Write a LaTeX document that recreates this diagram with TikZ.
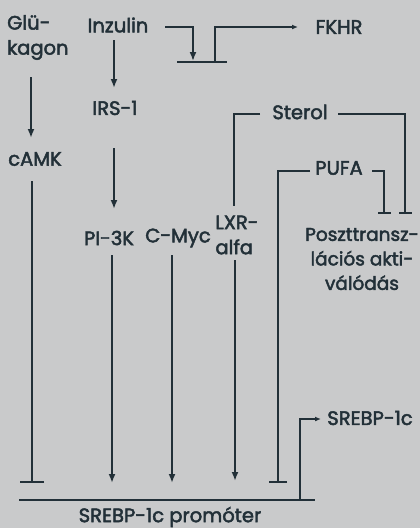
\documentclass[tikz,border=0pt]{standalone}
\usepackage{fontspec}
\setmainfont{Poppins}[FakeBold=2.4]
\usetikzlibrary{arrows.meta}
\definecolor{bg}{RGB}{201,202,203}
\definecolor{ink}{RGB}{34,48,56}
\tikzset{
  lbl/.style={inner sep=0pt, text=ink, font=\fontsize{19.5}{25}\selectfont},
  thick line/.style={draw=ink, line width=2.4pt},
  thin line/.style={draw=ink, line width=1.4pt},
  act/.style={-{Latex[length=9pt,width=7pt]}},
  smallact/.style={-{Latex[length=6pt,width=5pt]}},
}
\begin{document}
\begin{tikzpicture}[x=1pt,y=-1pt]
\fill[bg] (0,0) rectangle (420,528);
\useasboundingbox (0,0) rectangle (420,528);
% labels
\node[lbl, align=left, anchor=west] (glu) at (7,37.5) {Glü-\\kagon};
\node[lbl] (inz) at (118,25) {Inzulin};
\node[lbl] (fkhr) at (339,27) {FKHR};
\node[lbl] (irs) at (115,108) {IRS-1};
\node[lbl] (camk) at (35,159) {cAMK};
\node[lbl] (sterol) at (300,112) {Sterol};
\node[lbl] (pufa) at (339,168) {PUFA};
\node[lbl] (pi3k) at (109,238) {PI-3K};
\node[lbl] (cmyc) at (178,238) {C-Myc};
\node[lbl, align=left] (lxr) at (237,235) {LXR-\\alfa};
\node[lbl, align=center, font=\fontsize{18.5}{24.5}\selectfont] (post) at (362,259) {Poszttransz-\\lációs akti-\\válódás};
\node[lbl] (srebp) at (370,418) {SREBP-1c};
\node[lbl] (prom) at (170,517) {SREBP-1c promóter};
% coordinates
\coordinate (inzR) at (165,27);
\coordinate (fbarA) at (177,62);
\coordinate (fbarB) at (227,62);
\coordinate (fIn) at (193,61);
\coordinate (fOut) at (215,62);
\coordinate (fkhrIn) at (298,27);
\coordinate (gluS) at (31,77);
\coordinate (camkN) at (31,138);
\coordinate (inzS) at (114,40);
\coordinate (irsN) at (114,88);
\coordinate (irsS) at (114,148);
\coordinate (piN) at (114,209);
\coordinate (camkS) at (32,181);
\coordinate (camkE) at (32,483);
\coordinate (piS) at (112,255);
\coordinate (piE) at (112,483);
\coordinate (cmS) at (172,255);
\coordinate (cmE) at (172,483);
\coordinate (lxS) at (235,260);
\coordinate (lxE) at (235,481);
\coordinate (stL) at (260,114);
\coordinate (stLE) at (234,206);
\coordinate (stR) at (338,114);
\coordinate (stRE) at (405,214);
\coordinate (puL) at (310,171);
\coordinate (puLE) at (278,483);
\coordinate (puR) at (372,171);
\coordinate (puRE) at (384,214);
\coordinate (prA) at (19,500);
\coordinate (prB) at (315,500);
\coordinate (prT) at (300,500);
\coordinate (srIn) at (321,419);
% insulin -> FKHR switch
\draw[thin line, line width=1.7pt, act] (inzR) -| (fIn);
\draw[thin line] (fbarA) -- (fbarB);
\draw[thin line, smallact] (fOut) |- (fkhrIn);
% main cascade
\draw[thick line, act] (gluS) -- (camkN);
\draw[thick line, act] (inzS) -- (irsN);
\draw[thick line, act] (irsS) -- (piN);
\draw[thick line, -{Bar[width=24pt]}] (camkS) -- (camkE);
\draw[thick line, act] (piS) -- (piE);
\draw[thick line, act] (cmS) -- (cmE);
\draw[thick line, act] (lxS) -- (lxE);
% sterol / PUFA
\draw[thick line] (stL) -| (stLE);
\draw[thick line, -{Bar[width=13pt]}] (stR) -| (stRE);
\draw[thick line, -{Bar[width=18pt]}] (puL) -| (puLE);
\draw[thick line, -{Bar[width=13pt]}] (puR) -| (puRE);
% promoter
\draw[thin line] (prA) -- (prB);
\draw[thin line, smallact] (prT) |- (srIn);
\end{tikzpicture}
\end{document}
